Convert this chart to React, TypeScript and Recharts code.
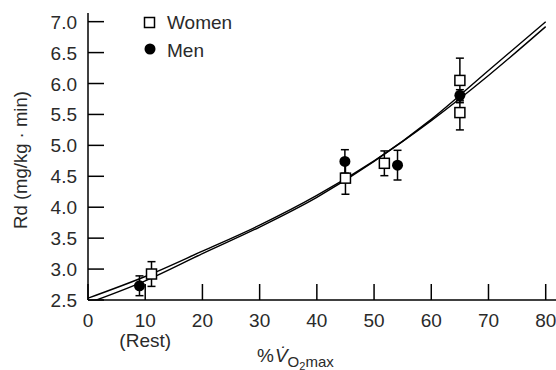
import React from 'react';
import { ComposedChart, Line, Scatter, XAxis, YAxis, ErrorBar, Legend } from 'recharts';

// Fitted curves
const curveX = [0, 10, 20, 30, 40, 50, 60, 70, 80];
const curveA = [2.53, 2.88, 3.29, 3.71, 4.19, 4.75, 5.40, 6.13, 6.92];
const curveB = [2.45, 2.81, 3.25, 3.68, 4.16, 4.74, 5.42, 6.21, 7.0];

// Women (open squares)
const womenX = [11.1, 45.0, 51.8, 65.0, 65.0];
const womenY = [2.92, 4.47, 4.71, 6.05, 5.53];
const womenErr = [0.2, 0.26, 0.2, 0.36, 0.28];

// Men (filled circles)
const menX = [9.0, 44.9, 54.1, 65.0];
const menY = [2.73, 4.74, 4.68, 5.81];
const menErr = [0.16, 0.19, 0.24, 0.09];

const xTicks = [0, 10, 20, 30, 40, 50, 60, 70, 80];
const yTicks = [2.5, 3.0, 3.5, 4.0, 4.5, 5.0, 5.5, 6.0, 6.5, 7.0];
const xSubLabels: Record<number, string> = { 10: '(Rest)' };
const yLabel = 'Rd (mg/kg · min)';
const seriesNames = ['Women', 'Men'];

const lineA = curveX.map((x, i) => ({ x, y: curveA[i] }));
const lineB = curveX.map((x, i) => ({ x, y: curveB[i] }));
const women = womenX.map((x, i) => ({ x, y: womenY[i], err: womenErr[i] }));
const men = menX.map((x, i) => ({ x, y: menY[i], err: menErr[i] }));

const FONT = '"Liberation Sans", Arial, Helvetica, sans-serif';
const TEXT = '#2a2a2a';

const YTick = (props: any) => {
  const { x, y, payload } = props;
  return (
    <g>
      <line x1={x} y1={y} x2={x + 16} y2={y} stroke="#000" strokeWidth={1.5} />
      <text x={x - 11} y={y + 7} textAnchor="end" fontSize={19} fontFamily={FONT} fill={TEXT}>
        {Number(payload.value).toFixed(1)}
      </text>
    </g>
  );
};

const XTick = (props: any) => {
  const { x, y, payload } = props;
  const sub = xSubLabels[payload.value];
  return (
    <g>
      <line x1={x} y1={y} x2={x} y2={y - 16} stroke="#000" strokeWidth={1.5} />
      <text x={x} y={y + 26.5} textAnchor="middle" fontSize={19} fontFamily={FONT} fill={TEXT}>
        {payload.value}
      </text>
      {sub ? (
        <text x={x} y={y + 46.5} textAnchor="middle" fontSize={19} fontFamily={FONT} fill={TEXT}>
          {sub}
        </text>
      ) : null}
    </g>
  );
};

const XLabel = () => (
  <text x={257} y={361.5} fontSize={19} fontFamily={FONT} fill={TEXT}>
    %
    <tspan fontStyle="italic" dx={1}>V&#x307;</tspan>
    <tspan fontSize={15} dy={5}>O</tspan>
    <tspan fontSize={11} dy={3}>2</tspan>
    <tspan fontSize={15} dy={-3}>max</tspan>
  </text>
);

const YLabel = () => (
  <g transform="translate(27 160) rotate(-90)">
    <text x={0} y={0} textAnchor="middle" fontSize={18.5} fontFamily={FONT} fill={TEXT}>
      {yLabel}
    </text>
  </g>
);

const SquareShape = (props: any) => {
  const { cx, cy } = props;
  return <rect x={cx - 5} y={cy - 5} width={10} height={10} fill="#fff" stroke="#000" strokeWidth={1.5} />;
};

const CircleShape = (props: any) => {
  const { cx, cy } = props;
  return <circle cx={cx} cy={cy} r={5.5} fill="#000" />;
};

const LegendContent = () => (
  <svg width={140} height={56} style={{ display: 'block', overflow: 'visible' }}>
    <rect x={4.5} y={7.5} width={10} height={10} fill="#fff" stroke="#000" strokeWidth={1.5} />
    <text x={27} y={18.5} fontSize={19} fontFamily={FONT} fill={TEXT}>{seriesNames[0]}</text>
    <circle cx={10} cy={39} r={5.5} fill="#000" />
    <text x={27} y={46.5} fontSize={19} fontFamily={FONT} fill={TEXT}>{seriesNames[1]}</text>
  </svg>
);

export default function App() {
  return (
    <div style={{ position: 'absolute', left: 0, top: 0, background: '#fff' }}>
      <ComposedChart width={556} height={370} margin={{ top: 13, right: 0, bottom: 0, left: 0 }}>
        <XAxis
          type="number"
          dataKey="x"
          domain={[0, 81.8]}
          ticks={xTicks}
          interval={0}
          allowDataOverflow
          tickSize={0}
          tickMargin={0}
          tickLine={false}
          tick={<XTick />}
          axisLine={{ stroke: '#000', strokeWidth: 1.5 }}
          height={70}
          label={<XLabel />}
        />
        <YAxis
          type="number"
          dataKey="y"
          domain={[2.5, 7.14]}
          ticks={yTicks}
          interval={0}
          allowDataOverflow
          tickSize={0}
          tickMargin={0}
          tickLine={false}
          tick={<YTick />}
          axisLine={{ stroke: '#000', strokeWidth: 1.5 }}
          width={88}
          label={<YLabel />}
        />
        <Legend
          layout="vertical"
          align="center"
          verticalAlign="middle"
          content={<LegendContent />}
          wrapperStyle={{ left: 140, top: 10, width: 140, height: 56 }}
        />
        <Line data={lineA} dataKey="y" type="monotone" stroke="#000" strokeWidth={1.4} dot={false} activeDot={false} isAnimationActive={false} legendType="none" />
        <Line data={lineB} dataKey="y" type="monotone" stroke="#000" strokeWidth={1.4} dot={false} activeDot={false} isAnimationActive={false} legendType="none" />
        <Scatter name={seriesNames[0]} data={women} dataKey="y" shape={<SquareShape />} isAnimationActive={false}>
          <ErrorBar dataKey="err" direction="y" width={4} stroke="#000" strokeWidth={1.5} />
        </Scatter>
        <Scatter name={seriesNames[1]} data={men} dataKey="y" shape={<CircleShape />} isAnimationActive={false}>
          <ErrorBar dataKey="err" direction="y" width={4} stroke="#000" strokeWidth={1.5} />
        </Scatter>
      </ComposedChart>
    </div>
  );
}
